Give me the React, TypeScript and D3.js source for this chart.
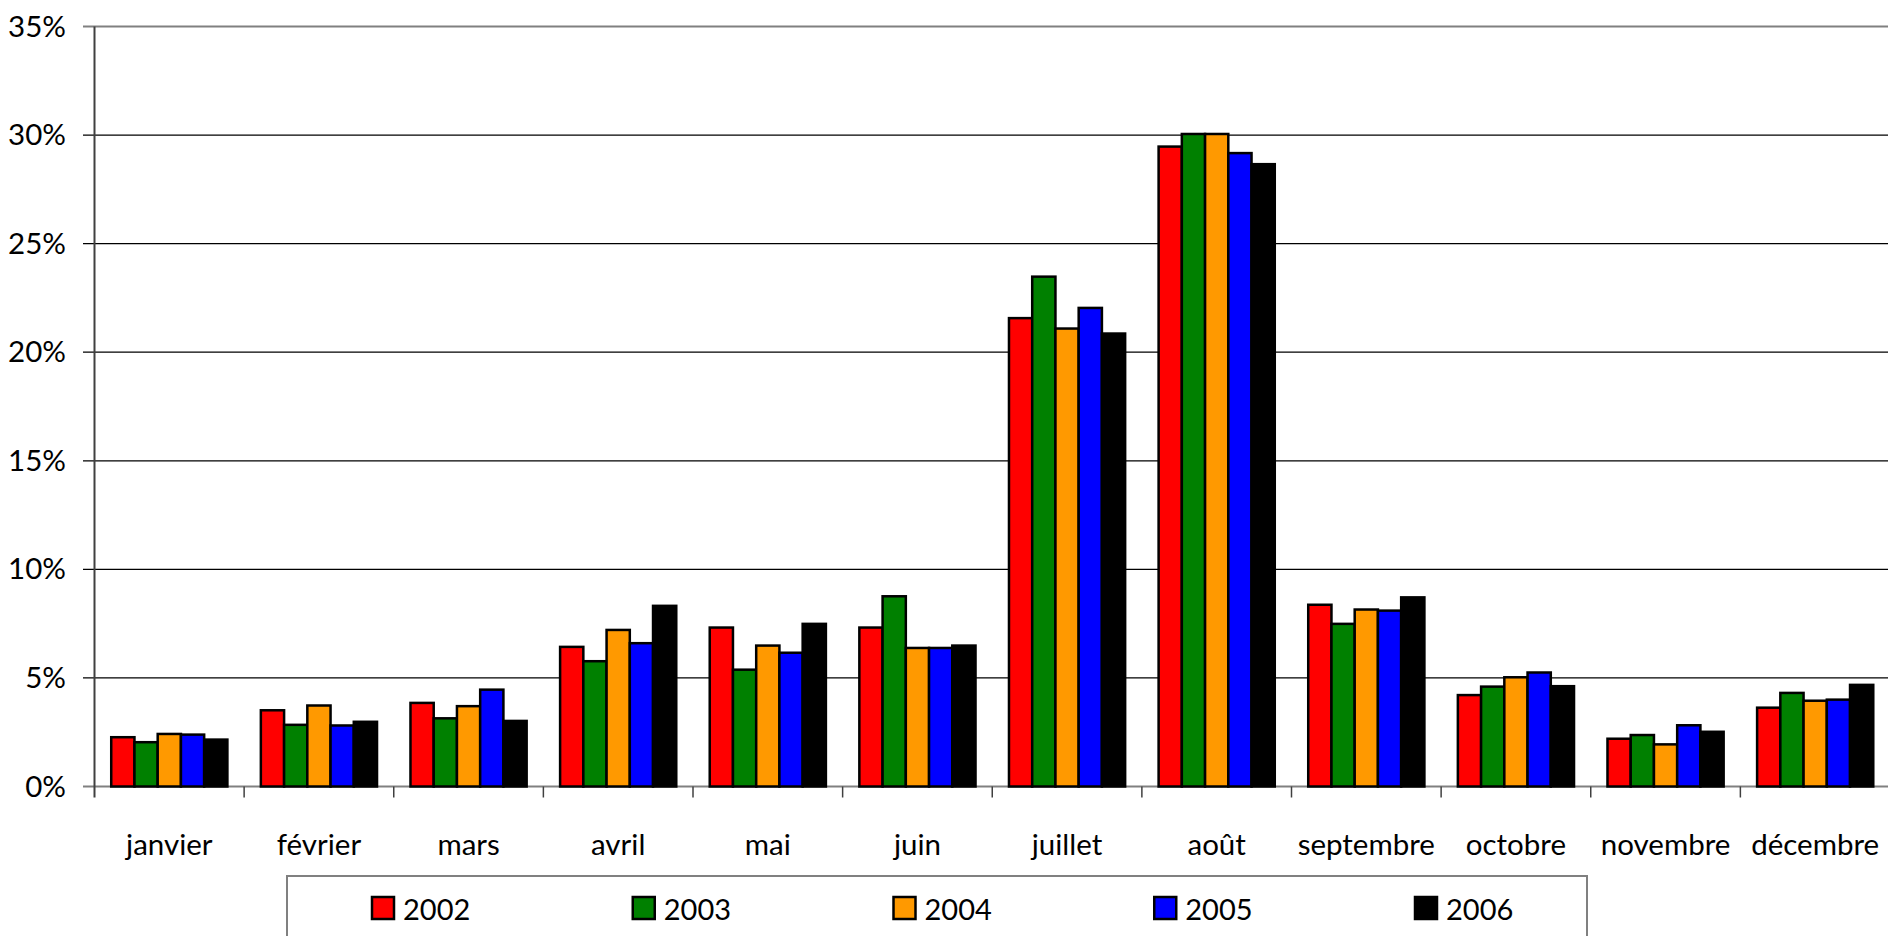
import React from "react";
import * as d3 from "d3";

const months = [
  "janvier", "février", "mars", "avril", "mai", "juin",
  "juillet", "août", "septembre", "octobre", "novembre", "décembre",
];
const years = ["2002", "2003", "2004", "2005", "2006"];
const colors = ["#ff0000", "#008000", "#ff9900", "#0000ff", "#000000"];

// share of the year per month (%)
const v2002 = [2.27, 3.51, 3.85, 6.43, 7.32, 7.32, 21.57, 29.47, 8.37, 4.21, 2.2, 3.63];
const v2003 = [2.04, 2.84, 3.14, 5.77, 5.38, 8.76, 23.48, 30.05, 7.49, 4.6, 2.37, 4.31];
const v2004 = [2.42, 3.73, 3.7, 7.21, 6.49, 6.38, 21.09, 30.05, 8.15, 5.03, 1.94, 3.95];
const v2005 = [2.39, 2.81, 4.46, 6.6, 6.16, 6.38, 22.04, 29.17, 8.1, 5.25, 2.82, 4.0];
const v2006 = [2.16, 2.98, 3.02, 8.32, 7.49, 6.49, 20.86, 28.66, 8.71, 4.62, 2.52, 4.68];
const series = [v2002, v2003, v2004, v2005, v2006];

const yTicks = [0, 5, 10, 15, 20, 25, 30, 35];

const W = 1888;
const H = 936;
const font = "Lato, 'Open Sans', sans-serif";

export default function App() {
  const left = 94.5;
  const right = 1890;
  const top = 26.5;
  const bottom = 786.5;

  const x = d3.scaleBand<string>().domain(months).range([left, right]);
  const inner = d3
    .scaleBand<string>()
    .domain(years)
    .range([0, x.bandwidth()])
    .paddingOuter(0.72)
    .paddingInner(0);
  const y = d3.scaleLinear().domain([0, 35]).range([bottom, top]);

  const legendX = d3.scaleLinear().domain([0, 4]).range([372, 1415]);

  return (
    <svg
      width={W}
      height={H}
      style={{ position: "absolute", left: 0, top: 0, background: "#fff" }}
      fontFamily={font}
    >
      {/* grid */}
      {yTicks.map((t) => (
        <g key={t}>
          <line
            x1={83}
            x2={right}
            y1={y(t)}
            y2={y(t)}
            stroke={t === 35 || t === 0 ? "#808080" : "#000"}
            strokeWidth={t === 35 || t === 0 ? 2 : 1.2}
          />
          <text
            x={66}
            y={y(t) + 10}
            textAnchor="end"
            fontSize={29.5}
            fill="#000"
          >
            {t}%
          </text>
        </g>
      ))}
      {/* left axis */}
      <line x1={left} x2={left} y1={top} y2={bottom + 11} stroke="#404040" strokeWidth={2} />

      {/* category ticks */}
      {months.slice(1).map((m) => (
        <line
          key={m}
          x1={x(m)}
          x2={x(m)}
          y1={bottom}
          y2={bottom + 11}
          stroke="#404040"
          strokeWidth={1.5}
        />
      ))}

      {/* bars */}
      {series.map((vals, si) => (
        <g key={years[si]}>
          {vals.map((v, mi) => (
            <rect
              key={mi}
              x={(x(months[mi]) ?? 0) + (inner(years[si]) ?? 0)}
              y={y(v)}
              width={inner.bandwidth()}
              height={bottom - y(v)}
              fill={colors[si]}
              stroke="#000"
              strokeWidth={2.5}
            />
          ))}
        </g>
      ))}

      {/* x labels */}
      {months.map((m) => (
        <text
          key={m}
          x={(x(m) ?? 0) + x.bandwidth() / 2}
          y={bottom + 68}
          textAnchor="middle"
          fontSize={29.5}
          fill="#000"
        >
          {m}
        </text>
      ))}

      {/* legend */}
      <rect x={287} y={876} width={1300} height={80} fill="#fff" stroke="#808080" strokeWidth={2} />
      {years.map((yr, i) => (
        <g key={yr}>
          <rect
            x={legendX(i)}
            y={897}
            width={22}
            height={22}
            fill={colors[i]}
            stroke="#000"
            strokeWidth={2.5}
          />
          <text x={legendX(i) + 31} y={920} fontSize={29} fill="#000">
            {yr}
          </text>
        </g>
      ))}
    </svg>
  );
}
